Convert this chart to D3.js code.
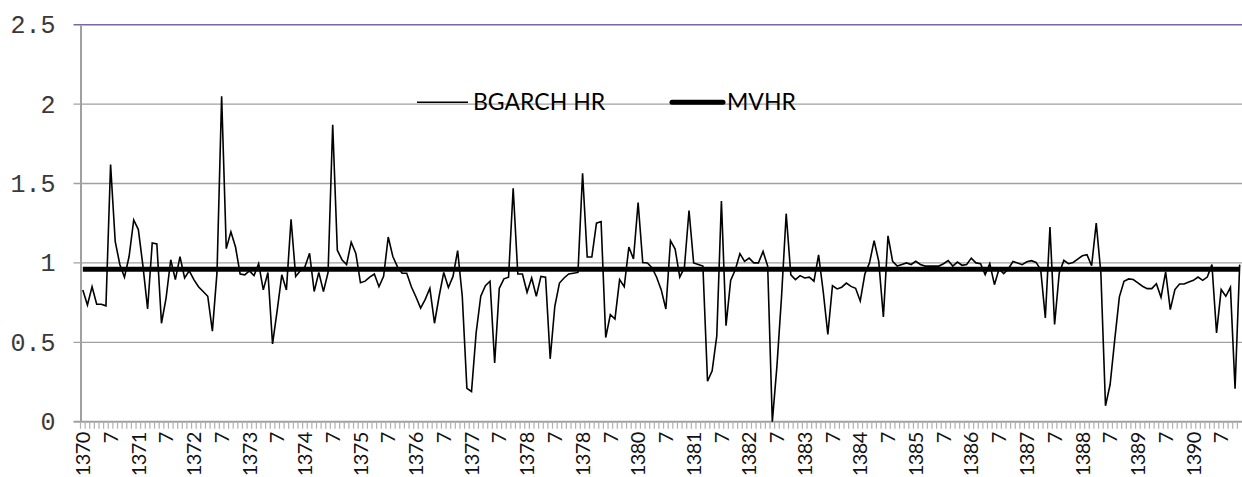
<!DOCTYPE html>
<html>
<head>
<meta charset="utf-8">
<script src="https://cdn.jsdelivr.net/npm/d3@7"></script>
<style>
  body { margin: 0; background: #fff; }
  svg { display: block; background: #fff; }
</style>
</head>
<body>
<svg id="chart" width="1242" height="477"></svg>
<script>
// monthly hedge ratios, 1370/1 .. 1390/11
const bgarchHR = [
  0.83, 0.735, 0.85, 0.74, 0.74, 0.73, 1.62, 1.135, 0.99, 0.91, 1.04, 1.27,
  1.21, 0.98, 0.71, 1.125, 1.12, 0.62, 0.78, 1.02, 0.895, 1.04, 0.905, 0.95,
  0.895, 0.85, 0.82, 0.79, 0.57, 0.94, 2.05, 1.09, 1.196, 1.10, 0.93, 0.925,
  0.95, 0.92, 0.995, 0.83, 0.94, 0.49, 0.70, 0.925, 0.83, 1.275, 0.915, 0.95,
  0.975, 1.06, 0.82, 0.94, 0.82, 0.94, 1.87, 1.08, 1.02, 0.99, 1.13, 1.06,
  0.875, 0.885, 0.91, 0.93, 0.85, 0.915, 1.163, 1.04, 0.975, 0.935, 0.935, 0.85,
  0.785, 0.715, 0.77, 0.84, 0.62, 0.79, 0.94, 0.845, 0.915, 1.077, 0.79, 0.21,
  0.19, 0.56, 0.79, 0.857, 0.885, 0.37, 0.84, 0.90, 0.91, 1.47, 0.93, 0.93,
  0.815, 0.905, 0.79, 0.915, 0.91, 0.396, 0.727, 0.873, 0.905, 0.93, 0.935, 0.94,
  1.565, 1.037, 1.037, 1.25, 1.26, 0.53, 0.675, 0.647, 0.895, 0.85, 1.10, 1.025,
  1.38, 1.003, 1.0, 0.97, 0.91, 0.83, 0.71, 1.14, 1.087, 0.91, 0.97, 1.33,
  1.0, 0.99, 0.98, 0.255, 0.32, 0.54, 1.39, 0.605, 0.89, 0.957, 1.058, 1.01,
  1.03, 1.0, 1.0, 1.072, 0.98, 0.0, 0.35, 0.79, 1.31, 0.925, 0.895, 0.92,
  0.905, 0.91, 0.885, 1.05, 0.82, 0.55, 0.857, 0.836, 0.847, 0.873, 0.852, 0.84,
  0.76, 0.93, 1.0, 1.14, 1.01, 0.66, 1.17, 1.01, 0.98, 0.99, 1.0, 0.99,
  1.01, 0.99, 0.98, 0.98, 0.98, 0.98, 0.995, 1.015, 0.98, 1.005, 0.985, 0.99,
  1.03, 1.0, 0.995, 0.926, 0.995, 0.863, 0.962, 0.932, 0.962, 1.009, 0.999, 0.989,
  1.007, 1.014, 1.003, 0.957, 0.654, 1.226, 0.612, 0.936, 1.016, 0.995, 1.003, 1.024,
  1.045, 1.052, 0.982, 1.251, 0.936, 0.10, 0.234, 0.517, 0.786, 0.884, 0.899, 0.895,
  0.874, 0.853, 0.838, 0.838, 0.869, 0.783, 0.943, 0.706, 0.832, 0.867, 0.867, 0.88,
  0.89, 0.911, 0.89, 0.911, 0.989, 0.559, 0.832, 0.79, 0.846, 0.207, 0.989
];
const mvhr = 0.96;

// one label every 6 months (the original repeats 1378)
const tickLabels = [
  "1370", "7", "1371", "7", "1372", "7", "1373", "7", "1374", "7", "1375", "7",
  "1376", "7", "1377", "7", "1378", "7", "1378", "7", "1380", "7", "1381", "7",
  "1382", "7", "1383", "7", "1384", "7", "1385", "7", "1386", "7", "1387", "7",
  "1388", "7", "1389", "7", "1390", "7"
];
const yTicks = [0, 0.5, 1, 1.5, 2, 2.5];
const seriesNames = ["BGARCH HR", "MVHR"];

const svg = d3.select("#chart");
const plotLeft = 80.5, plotRight = 1242, plotBottom = 421.7, plotTop = 24.7;

const x = d3.scaleBand()
  .domain(d3.range(bgarchHR.length))
  .range([plotLeft, plotRight]);
const y = d3.scaleLinear()
  .domain([0, 2.5])
  .range([plotBottom, plotTop]);
const cx = i => x(i) + x.bandwidth() / 2;

// gridlines (top one purple like the plot border)
svg.append("g")
  .selectAll("line")
  .data(yTicks.filter(d => d > 0))
  .join("line")
  .attr("x1", plotLeft - 7)
  .attr("x2", plotRight)
  .attr("y1", d => y(d))
  .attr("y2", d => y(d))
  .attr("stroke", d => d === 2.5 ? "#8064a2" : "#a0a0a0")
  .attr("stroke-width", d => d === 2.5 ? 1.6 : 1.3);

// y axis
const yAxis = svg.append("g")
  .attr("transform", `translate(${plotLeft},0)`)
  .call(d3.axisLeft(y).tickValues(yTicks).tickSize(0).tickPadding(25).tickFormat(d3.format("~g")));
yAxis.select(".domain")
  .attr("stroke", "#a0a0a0")
  .attr("stroke-width", 2);
yAxis.selectAll("text")
  .attr("font-family", "'Liberation Mono', monospace")
  .attr("font-size", 25)
  .attr("fill", "#3a3a3a");

// x axis with a tick at every month
const xAxis = svg.append("g")
  .attr("transform", `translate(0,${plotBottom})`)
  .call(d3.axisBottom(x)
    .tickSizeInner(7)
    .tickSizeOuter(0)
    .tickFormat(i => i % 6 === 0 ? tickLabels[i / 6] : ""));
xAxis.select(".domain")
  .attr("stroke", "#a0a0a0")
  .attr("stroke-width", 2)
  .attr("d", `M${plotLeft - 7},0H${plotRight}`);
xAxis.selectAll(".tick line")
  .attr("x1", -x.bandwidth() / 2)
  .attr("x2", -x.bandwidth() / 2)
  .attr("stroke", "#b0b0b0")
  .attr("stroke-width", 1.2);
xAxis.selectAll(".tick text")
  .attr("transform", "rotate(-90)")
  .attr("x", -10.5)
  .attr("y", 0)
  .attr("dy", "0.36em")
  .attr("text-anchor", "end")
  .attr("font-family", "Lato, 'Open Sans', sans-serif")
  .attr("font-size", 20)
  .attr("letter-spacing", -0.6)
  .attr("fill", "#111");

// BGARCH HR series
svg.append("path")
  .datum(bgarchHR)
  .attr("fill", "none")
  .attr("stroke", "#000")
  .attr("stroke-width", 1.6)
  .attr("d", d3.line().x((d, i) => cx(i)).y(d => y(d)));

// MVHR constant ratio
svg.append("line")
  .attr("x1", cx(0))
  .attr("x2", cx(bgarchHR.length - 1))
  .attr("y1", y(mvhr))
  .attr("y2", y(mvhr))
  .attr("stroke", "#000")
  .attr("stroke-width", 5);

// legend
const legend = svg.append("g")
  .attr("font-family", "Lato, 'Open Sans', sans-serif")
  .attr("font-size", 23)
  .attr("fill", "#000");

legend.append("line")
  .attr("x1", 417).attr("x2", 468)
  .attr("y1", 102.3).attr("y2", 102.3)
  .attr("stroke", "#000")
  .attr("stroke-width", 1.6);
legend.append("text")
  .attr("x", 473).attr("y", 110)
  .text(seriesNames[0]);

legend.append("line")
  .attr("x1", 672).attr("x2", 723)
  .attr("y1", 102.3).attr("y2", 102.3)
  .attr("stroke", "#000")
  .attr("stroke-width", 5)
  .attr("stroke-linecap", "round");
legend.append("text")
  .attr("x", 727).attr("y", 110)
  .text(seriesNames[1]);
</script>
</body>
</html>
